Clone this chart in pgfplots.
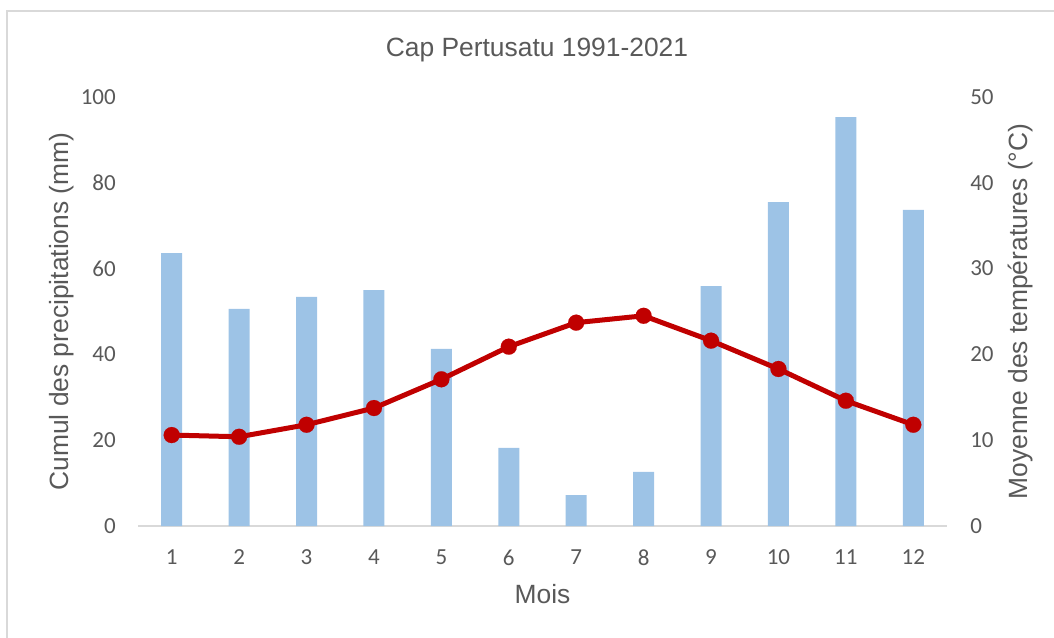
\documentclass[border=0pt]{standalone}
\usepackage{fontspec}
\setmainfont{Liberation Sans}
\newfontfamily\carlito{Carlito}
\usepackage{pgfplots}
\pgfplotsset{compat=1.18}
\definecolor{barblue}{HTML}{9DC3E6}
\definecolor{linered}{HTML}{C00000}
\definecolor{txt}{HTML}{595959}
\definecolor{gridc}{HTML}{D9D9D9}
\begin{document}
\begin{tikzpicture}
\useasboundingbox (0,0) rectangle (790.5pt,477.75pt);
\draw[gridc, line width=1.1pt] (5.25pt,-20pt) -- (5.25pt,469.5pt) -- (820pt,469.5pt);
\begin{axis}[at={(103.5pt,83.25pt)}, anchor=south west, scale only axis,
  width=606.75pt, height=321.75pt,
  xmin=0.5, xmax=12.5, ymin=0, ymax=100,
  xtick={1,...,12}, ytick={0,20,...,100},
  axis lines*=left,
  x axis line style={gridc, line width=1pt, -},
  y axis line style={draw=none},
  major tick length=0pt,
  tick label style={font=\fontsize{17.25}{20}\carlito, text=txt, inner sep=0pt},
  /pgf/number format/assume math mode=true,
  xticklabel style={yshift=-17.6pt},
  yticklabel style={xshift=-16.5pt},
  ybar, bar width=15.75pt, bar shift=0pt, clip=false]
\addplot[fill=barblue, draw=none] coordinates {
(1,63.6) (2,50.6) (3,53.4) (4,55.0) (5,41.3) (6,18.2)
(7,7.2) (8,12.6) (9,55.9) (10,75.5) (11,95.3) (12,73.7)};
\end{axis}
\begin{axis}[at={(103.5pt,83.25pt)}, anchor=south west, scale only axis,
  width=606.75pt, height=321.75pt,
  xmin=0.5, xmax=12.5, ymin=0, ymax=50,
  ytick={0,10,...,50},
  axis y line*=right, axis x line=none,
  y axis line style={draw=none},
  major tick length=0pt,
  tick label style={font=\fontsize{17.25}{20}\carlito, text=txt, inner sep=0pt},
  /pgf/number format/assume math mode=true,
  yticklabel style={xshift=17.25pt},
  clip=false]
\addplot[linered, line width=3.75pt, line join=round, mark=*, mark size=6pt,
  mark options={fill=linered, draw=linered, line width=0.1pt}] coordinates {
(1,10.6) (2,10.4) (3,11.8) (4,13.75) (5,17.1) (6,20.9)
(7,23.7) (8,24.5) (9,21.6) (10,18.3) (11,14.6) (12,11.8)};
\end{axis}
\node[anchor=base, font=\fontsize{19.8}{24}\selectfont, text=txt] at (402.75pt,435pt) {Cap Pertusatu 1991-2021};
\node[anchor=base, font=\fontsize{19.8}{24}\selectfont, text=txt] at (406.9pt,25.5pt) {Mois};
\node[anchor=base, rotate=90, font=\fontsize{19.8}{24}\selectfont, text=txt] at (51pt,244.1pt) {Cumul des precipitations (mm)};
\node[anchor=base, rotate=90, font=\fontsize{19.8}{24}\selectfont, text=txt] at (770.25pt,244.1pt) {Moyenne des températures (°C)};
\end{tikzpicture}
\end{document}
